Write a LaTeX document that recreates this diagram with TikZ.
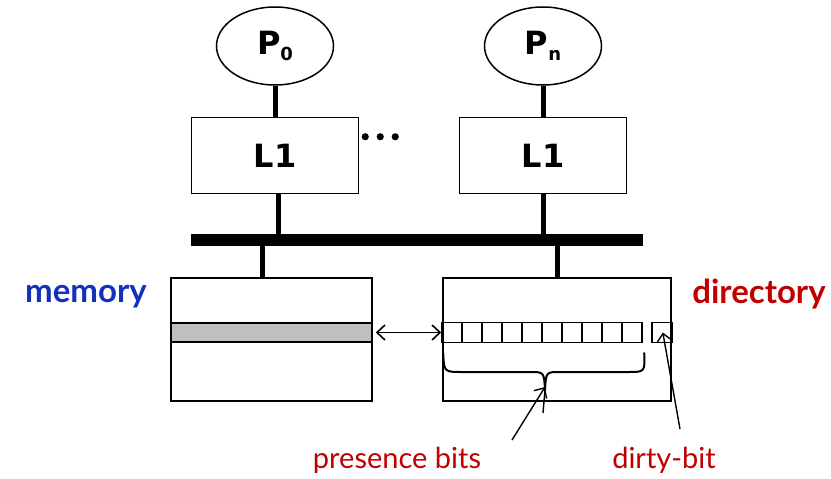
\documentclass[tikz,border=0pt]{standalone}
\usepackage{fontspec}
\usepackage{tikz}
\usetikzlibrary{arrows.meta, positioning, shapes.geometric}
\newfontfamily\boxfont{DejaVu Sans}
\newfontfamily\lblfont{Lato}
\definecolor{memblue}{RGB}{18, 50, 190}
\definecolor{dirred}{RGB}{192, 0, 0}
\definecolor{linegray}{RGB}{191, 191, 191}
\newcommand{\procname}[1]{P\raisebox{-6pt}{\fontsize{18}{18}\selectfont #1}}

\begin{document}
\begin{tikzpicture}[
  x=1pt, y=-1pt,
  proc/.style={draw, ellipse, line width=1.5pt, minimum width=117pt,
               minimum height=78pt, inner sep=0pt,
               font=\boxfont\bfseries\fontsize{32}{32}\selectfont},
  cache/.style={draw, line width=1.5pt, minimum width=167pt,
                minimum height=76pt, inner sep=0pt,
                font=\boxfont\bfseries\fontsize{32}{32}\selectfont},
  store/.style={draw, line width=1.6pt, minimum height=123pt, inner sep=0pt},
  bit/.style={draw, line width=1.6pt, minimum width=20pt, minimum height=20pt,
              inner sep=0pt, outer sep=0pt, anchor=west},
  stem/.style={line width=5pt},
  bus/.style={line width=12pt},
  pointer/.style={line width=1.4pt, {Straight Barb[length=8pt, width=15pt]}-},
  lb/.style={font=\lblfont\fontsize{29}{29}\selectfont, color=dirred},
  title/.style={font=\lblfont\bfseries\fontsize{33}{33}\selectfont}
]
\useasboundingbox (0,0) rectangle (831,479);

% ── Processors and caches ───────────────────────────────────────────────────
\node[proc] (p0) at (275,46) {\procname{0}};
\node[proc] (pn) at (543,46) {\procname{n}};

\node[cache, below=31pt of p0] (l1a) {L1};
\node[cache, below=31pt of pn] (l1b) {L1};

\foreach \dx in {0,15,30}
  \fill ([xshift=\dx pt+6pt, yshift=-20pt]l1a.north east) circle (3.6pt);

% ── Bus ─────────────────────────────────────────────────────────────────────
\coordinate (busw) at (191,240);
\coordinate (buse) at (643,240);
\draw[bus] (busw) -- (buse);

% ── Memory and directory ────────────────────────────────────────────────────
\node[store, minimum width=201pt] (mem) at (271.5,339.5) {};
\node[draw, line width=1.6pt, fill=linegray, minimum width=201pt,
      minimum height=19pt, inner sep=0pt] (memline) at (mem) [yshift=7pt] {};
\node[store, minimum width=228pt] (dir) at (557,339.5) {};

% presence bits, then the dirty bit at the right edge
\node[bit] (b0) at (dir.west |- memline) {};
\foreach \i [remember=\i as \j (initially 0)] in {1,...,9}
  \node[bit] (b\i) at (b\j.east) {};
\node[bit, anchor=east] (dirty) at (dir.east |- memline) {};

% ── Connections ─────────────────────────────────────────────────────────────
\draw[stem] (p0.south) -- (l1a.north);
\draw[stem] (pn.south) -- (l1b.north);
\draw[stem] ([xshift=3pt]l1a.south) -- ([xshift=3pt]l1a.south |- busw);
\draw[stem] (l1b.south) -- (l1b.south |- busw);
\draw[stem] ([xshift=-9pt]mem.north) -- ([xshift=-9pt]mem.north |- busw);
\draw[stem] (dir.north) -- (dir.north |- busw);

\draw[line width=1.6pt, {Straight Barb[length=8pt, width=15pt]}-{Straight Barb[length=8pt, width=15pt]}]
  ([xshift=3pt]memline.east) -- ([xshift=-1pt]b0.west);

% brace under the presence bits
\coordinate (cusp) at (545,390);
\draw[line width=2pt]
  ([xshift=1pt, yshift=-10pt]b0.south west)
  .. controls (444,372) .. (462,372) -- (530,372)
  .. controls (544,372) .. (cusp)
  .. controls (546,372) .. (560,372) -- (628,372)
  .. controls (645,372) .. ([xshift=2pt, yshift=-10pt]b9.south east);
\draw[line width=1.4pt] (cusp) -- ++(-2,23);

% ── Labels ──────────────────────────────────────────────────────────────────
\node[title, color=memblue] (memlbl) at (86,297) {memory};
\node[title, color=dirred] (dirlbl) at (759,294) {directory};
\node[lb] (preslbl) at (397,460) {presence bits};
\node[lb] (dirtylbl) at (664,460) {dirty-bit};

\coordinate (prestail) at (512,440);
\coordinate (dirtytail) at (680,429);
\draw[pointer] ([yshift=3pt]cusp) -- (prestail);
\draw[pointer] ([xshift=1pt, yshift=10pt]dirty.south) -- (dirtytail);

\end{tikzpicture}
\end{document}
